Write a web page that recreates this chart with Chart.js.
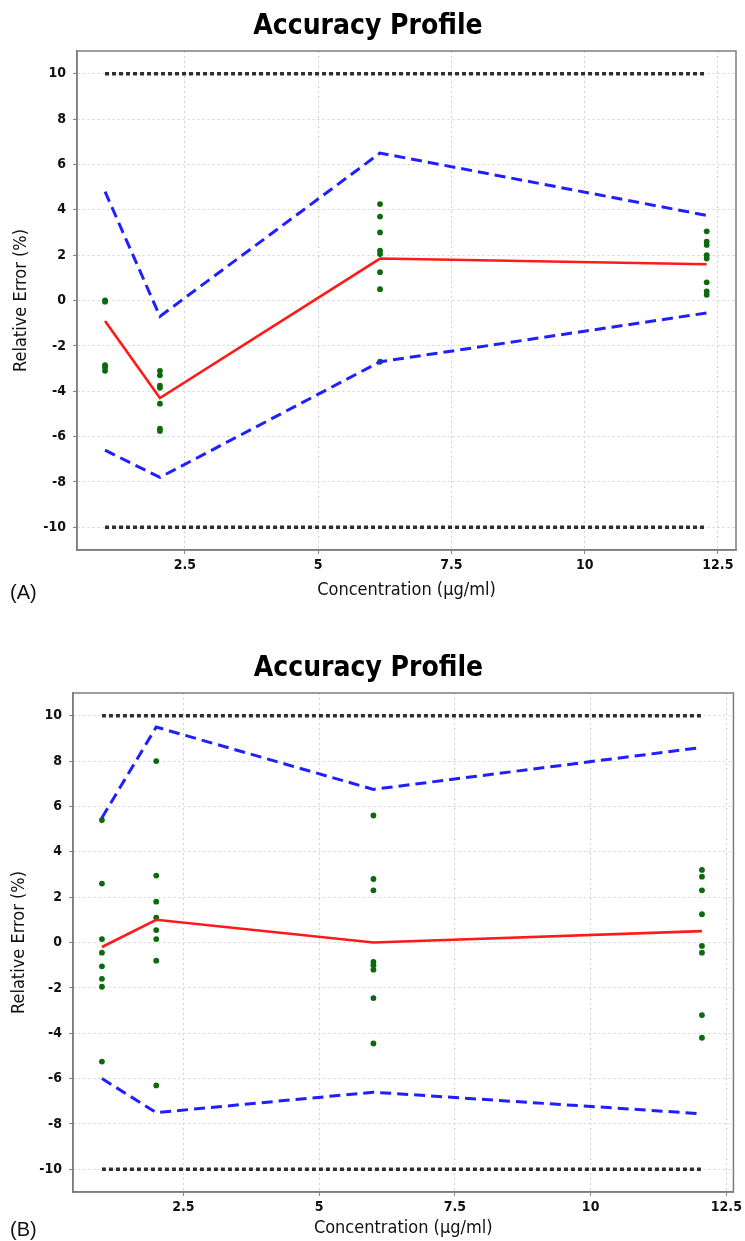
<!DOCTYPE html>
<html>
<head>
<meta charset="utf-8">
<script src="https://cdn.jsdelivr.net/npm/chart.js@4.4.1/dist/chart.umd.min.js"></script>
<style>
html,body{margin:0;padding:0;background:#fff;overflow:hidden;}
canvas{position:absolute;left:0;}
.tag{position:absolute;left:10px;font-family:"Liberation Sans",Arial,sans-serif;font-size:20px;color:#111;}
</style>
</head>
<body>
<canvas id="chartA" width="745" height="615" style="top:0"></canvas>
<div class="tag" style="top:581px">(A)</div>
<canvas id="chartB" width="745" height="599" style="top:642px"></canvas>
<div class="tag" style="top:1218px">(B)</div>
<script>
// tick labels shared by both panels
const xTicks=[2.5,5,7.5,10,12.5];
const yTicks=[-10,-8,-6,-4,-2,0,2,4,6,8,10];
const limits=[-10,10];

// panel A
const concA=[1.0,2.03,6.16,12.29];
const meanA=[-0.9,-4.3,1.85,1.6];
const upperA=[4.8,-0.7,6.5,3.75];
const lowerA=[-6.6,-7.8,-2.7,-0.55];
const replA=[
    [0,-0.05,-2.85,-2.95,-3.1],
    [-3.1,-3.3,-3.75,-3.85,-4.55,-5.65,-5.75],
    [4.25,3.7,3.0,2.2,2.05,1.25,0.5,-2.7],
    [3.05,2.6,2.45,2.0,1.85,0.8,0.4,0.25]
];

// panel B
const concB=[1.0,2.0,6.0,12.05];
const meanB=[-0.2,1.0,0.0,0.5];
const upperB=[5.5,9.5,6.75,8.6];
const lowerB=[-6.0,-7.5,-6.6,-7.55];
const replB=[
    [5.4,2.6,0.15,-0.45,-1.05,-1.6,-1.95,-5.25],
    [8.0,2.95,1.8,1.1,0.55,0.15,-0.8,-6.3],
    [5.6,2.8,2.3,-0.85,-1.0,-1.2,-2.45,-4.45],
    [3.2,2.9,2.3,1.25,-0.15,-0.45,-3.2,-4.2]
];

const frame={
    id:'frame',
    afterDraw(chart){
        const a=chart.chartArea,ctx=chart.ctx;
        ctx.save();
        ctx.strokeStyle='#7d7d7d';
        ctx.lineWidth=1.5;
        ctx.strokeRect(a.left,a.top,a.right-a.left,a.bottom-a.top);
        ctx.restore();
    }
};

const tickFont={family:'"DejaVu Sans Condensed","DejaVu Sans",sans-serif',size:14,weight:'bold'};
const titleFont={family:'"DejaVu Sans Condensed","DejaVu Sans",sans-serif',size:18};

function pts(xs,ys){
    return xs.map((x,i)=>({x:x,y:ys[i]}));
}

function makeChart(id,conc,mean,upper,lower,repl,o){
    const scatter=[];
    repl.forEach((list,i)=>list.forEach(v=>scatter.push({x:conc[i],y:v})));
    const first=conc[0],last=conc[conc.length-1];
    return new Chart(document.getElementById(id),{
        type:'line',
        data:{
            datasets:[
                {data:[{x:first,y:limits[1]},{x:last,y:limits[1]}],borderColor:'#2e2e2e',borderWidth:3.5,borderDash:[4,3],pointRadius:0},
                {data:[{x:first,y:limits[0]},{x:last,y:limits[0]}],borderColor:'#2e2e2e',borderWidth:3.5,borderDash:[4,3],pointRadius:0},
                {data:pts(conc,upper),borderColor:'#1f1fff',borderWidth:3,borderDash:[11,6],pointRadius:0},
                {data:pts(conc,lower),borderColor:'#1f1fff',borderWidth:3,borderDash:[11,6],pointRadius:0},
                {data:pts(conc,mean),borderColor:'#ff1a1a',borderWidth:2.6,pointRadius:0},
                {type:'scatter',data:scatter,backgroundColor:'#0b6a0b',borderColor:'#0b6a0b',pointRadius:2.9,borderWidth:0}
            ]
        },
        options:{
            responsive:false,
            animation:false,
            layout:{padding:{left:0,right:o.padRight,top:0,bottom:0}},
            plugins:{
                legend:{display:false},
                tooltip:{enabled:false},
                title:{
                    display:true,
                    text:'Accuracy Profile',
                    color:'#000',
                    font:{family:'"DejaVu Sans Condensed","DejaVu Sans",sans-serif',size:28,weight:'bold',lineHeight:1.2},
                    padding:{top:9.5,bottom:7.9}
                }
            },
            scales:{
                x:{
                    type:'linear',
                    min:o.xMin,
                    max:o.xMax,
                    afterBuildTicks:s=>{s.ticks=xTicks.map(v=>({value:v}));},
                    afterFit:s=>{s.height=o.xHeight;},
                    grid:{color:'#d2d2d2',lineWidth:1,tickLength:4,tickColor:'#888'},
                    border:{color:'#7d7d7d',width:1.5,dash:[2,3]},
                    ticks:{color:'#111',font:tickFont,padding:3,maxRotation:0},
                    title:{display:true,text:'Concentration (µg/ml)',color:'#111',font:titleFont,padding:{top:0,bottom:o.xTitlePad}}
                },
                y:{
                    min:-11,
                    max:11,
                    afterBuildTicks:s=>{s.ticks=yTicks.map(v=>({value:v}));},
                    afterFit:s=>{s.width=o.yWidth;},
                    grid:{color:'#d2d2d2',lineWidth:1,tickLength:4,tickColor:'#888'},
                    border:{color:'#7d7d7d',width:1.5,dash:[2,3]},
                    ticks:{color:'#111',font:tickFont,padding:7},
                    title:{display:true,text:'Relative Error (%)',color:'#111',font:titleFont,padding:{top:o.yTitlePad,bottom:0}}
                }
            }
        },
        plugins:[frame]
    });
}

makeChart('chartA',concA,meanA,upperA,lowerA,replA,{xMin:0.474,xMax:12.84,padRight:9,yWidth:77,xHeight:65,xTitlePad:14,yTitlePad:11});
makeChart('chartB',concB,meanB,upperB,lowerB,replB,{xMin:0.467,xMax:12.63,padRight:8,yWidth:73,xHeight:49,xTitlePad:2,yTitlePad:9});
</script>
</body>
</html>
